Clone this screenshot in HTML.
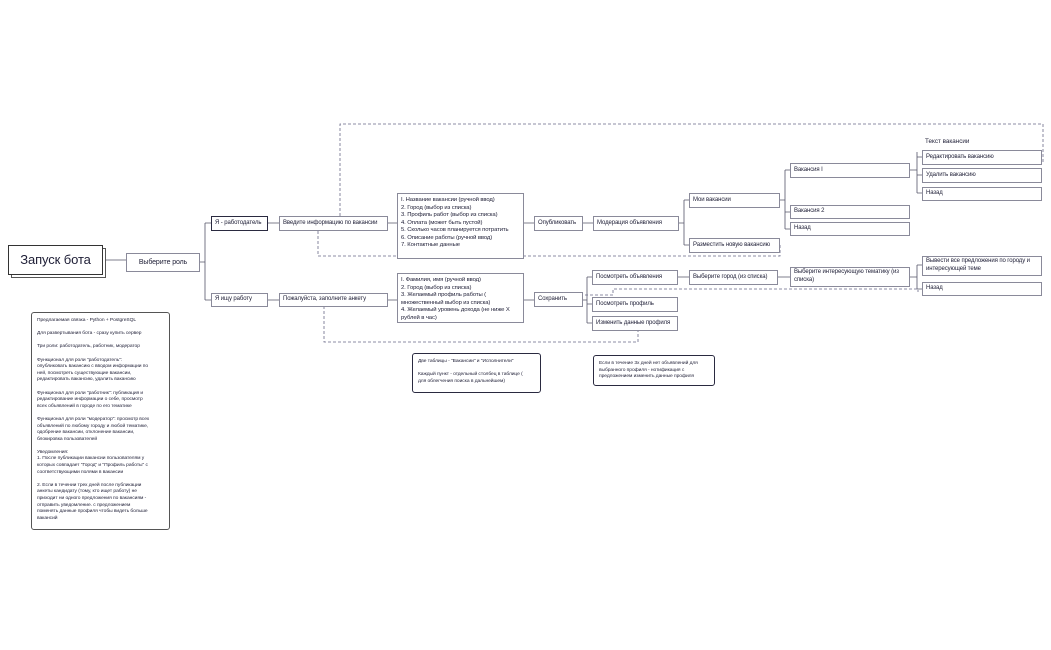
<!DOCTYPE html>
<html><head><meta charset="utf-8"><style>
body{margin:0;width:1051px;height:650px;background:#fff;position:relative;overflow:hidden;font-family:"Liberation Sans",sans-serif;color:#1d1d35}
.b{position:absolute;box-sizing:border-box;border:1px solid #8a8a9a;background:#fff;font-size:6px;padding:0 3px;display:flex;align-items:center;line-height:7.6px;white-space:nowrap;letter-spacing:-0.1px}
.w{white-space:normal}
.n{position:absolute;box-sizing:border-box;border:1.3px solid #2a2a40;border-radius:3px;background:#fff;font-size:4.9px;line-height:6.6px;padding:5px 5px;letter-spacing:-0.05px}
svg{position:absolute;left:0;top:0}
</style></head><body>
<svg width="1051" height="650">
<g stroke="#55556a" stroke-width="0.8" fill="none">
<path d="M103 260H126M200 262H205M205 223V300M205 223H211M205 300H211M268 223H279M268 300H279M388 223H397M524 223H534M583 223H593M679 223H684M684 200V245M684 200H689M684 245H689M780 200H785M785 170V229M785 170H790M785 212H790M785 229H790M910 170H917M917 152V193M917 157H922M917 175H922M917 193H922"/>
<path d="M388 300H397M524 300H534M583 300H587M587 277V323M587 277H592M587 304H592M587 323H592M678 277H689M778 277H790M910 277H917M917 265V289M917 265H922M917 289H922"/>
</g>
<g stroke="#6a6a88" stroke-width="0.8" fill="none" stroke-dasharray="3,2">
<path d="M340 216V124H1043V163"/>
<path d="M318 231V256H780V243"/>
<path d="M324 306V342H638V331"/>
<path d="M585 295H613V289H918V292"/>
</g>
</svg>
<div class="b" style="left:11px;top:248px;width:95px;height:30px;border-color:#555;"></div>
<div class="b" style="left:8px;top:245px;width:95px;height:30px;border-color:#333;font-size:13px;justify-content:center">Запуск бота</div>
<div class="b" style="left:126px;top:253px;width:74px;height:19px;font-size:7px;justify-content:center">Выберите роль</div>
<div class="b" style="left:211px;top:216px;width:57px;height:15px;border-color:#2a2a40">Я - работодатель</div>
<div class="b" style="left:279px;top:216px;width:109px;height:15px">Введите информацию по вакансии</div>
<div class="b" style="left:211px;top:293px;width:57px;height:14px">Я ищу работу</div>
<div class="b" style="left:279px;top:293px;width:109px;height:14px">Пожалуйста, заполните анкету</div>
<div class="b" style="left:397px;top:193px;width:127px;height:66px;font-size:5.9px;line-height:7.5px;align-items:flex-start;padding-top:3px">I. Название вакансии (ручной ввод)<br>2. Город (выбор из списка)<br>3. Профиль работ (выбор из списка)<br>4. Оплата (может быть пустой)<br>5. Сколько часов планируется потратить<br>6. Описание работы (ручной ввод)<br>7. Контактные данные</div>
<div class="b" style="left:534px;top:216px;width:49px;height:15px">Опубликовать</div>
<div class="b" style="left:593px;top:216px;width:86px;height:15px">Модерация объявления</div>
<div class="b" style="left:689px;top:193px;width:91px;height:15px">Мои вакансии</div>
<div class="b" style="left:689px;top:238px;width:91px;height:15px">Разместить новую вакансию</div>
<div class="b" style="left:790px;top:163px;width:120px;height:15px">Вакансия I</div>
<div class="b" style="left:790px;top:205px;width:120px;height:14px">Вакансия 2</div>
<div class="b" style="left:790px;top:222px;width:120px;height:14px">Назад</div>
<div style="position:absolute;left:925px;top:138px;font-size:6.3px">Текст вакансии</div>
<div class="b" style="left:922px;top:150px;width:120px;height:15px">Редактировать вакансию</div>
<div class="b" style="left:922px;top:168px;width:120px;height:15px">Удалить вакансию</div>
<div class="b" style="left:922px;top:187px;width:120px;height:14px">Назад</div>
<div class="b" style="left:397px;top:273px;width:127px;height:50px;font-size:5.9px;line-height:7.5px;align-items:flex-start;padding-top:3px">I. Фамилия, имя (ручной ввод)<br>2. Город (выбор из списка)<br>3. Желаемый профиль работы (<br>множественный выбор из списка)<br>4. Желаемый уровень дохода (не ниже X<br>рублей в час)</div>
<div class="b" style="left:534px;top:292px;width:49px;height:15px">Сохранить</div>
<div class="b" style="left:592px;top:270px;width:86px;height:15px">Посмотреть объявления</div>
<div class="b" style="left:592px;top:297px;width:86px;height:15px">Посмотреть профиль</div>
<div class="b" style="left:592px;top:316px;width:86px;height:15px">Изменить данные профиля</div>
<div class="b" style="left:689px;top:270px;width:89px;height:15px">Выберите город (из списка)</div>
<div class="b" style="left:790px;top:267px;width:120px;height:20px">Выберите интересующую тематику (из<br>списка)</div>
<div class="b" style="left:922px;top:256px;width:120px;height:20px">Вывести все предложения по городу и<br>интересующей теме</div>
<div class="b" style="left:922px;top:282px;width:120px;height:14px">Назад</div>
<div class="n" style="left:31px;top:312px;width:139px;height:218px;border-color:#555;border-width:1px">Предлагаемая связка - Python + PostgreSQL<br><br>Для развертывания бота - сразу купить сервер<br><br>Три роли: работодатель, работник, модератор<br><br>Функционал для роли "работодатель":<br>опубликовать вакансию с вводом информации по<br>ней, посмотреть существующие вакансии,<br>редактировать вакансию, удалить вакансию<br><br>Функционал для роли "работник": публикация и<br>редактирование информации о себе, просмотр<br>всех объявлений в городе по его тематике<br><br>Функционал для роли "модератор": просмотр всех<br>объявлений по любому городу и любой тематике,<br>одобрение вакансии, отклонение вакансии,<br>блокировка пользователей<br><br>Уведомления:<br>1. После публикации вакансии пользователям у<br>которых совпадает "Город" и "Профиль работы" с<br>соответствующими полями в вакансии<br><br>2. Если в течении трех дней после публикации<br>анкеты кандидату (тому, кто ищет работу) не<br>приходит ни одного предложения по вакансиям -<br>отправить уведомление. с предложением<br>поменять данные профиля чтобы видеть больше<br>вакансий</div>
<div class="n" style="left:412px;top:353px;width:129px;height:40px">Две таблицы - "Вакансии" и "Исполнители"<br><br>Каждый пункт - отдельный столбец в таблице (<br>для облегчения поиска в дальнейшем)</div>
<div class="n" style="left:593px;top:355px;width:122px;height:31px">Если в течение 3х дней нет объявлений для<br>выбранного профиля - нотификация с<br>предложением изменить данные профиля</div>
</body></html>
